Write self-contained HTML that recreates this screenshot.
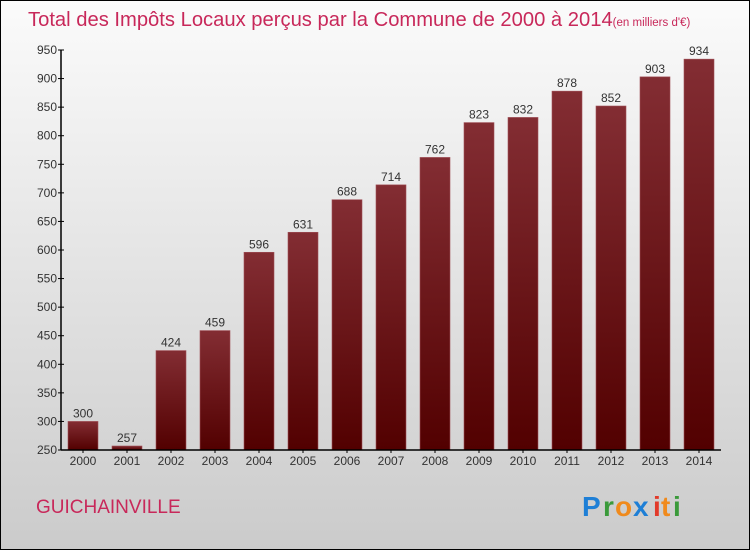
<!DOCTYPE html>
<html><head><meta charset="utf-8"><style>
body{margin:0;width:750px;height:550px;overflow:hidden;font-family:"Liberation Sans",sans-serif}
</style></head><body>
<svg width="750" height="550" xmlns="http://www.w3.org/2000/svg">
<defs>
<linearGradient id="bg" x1="0" y1="0" x2="0" y2="1"><stop offset="0" stop-color="#fbfbfb"/><stop offset="1" stop-color="#cbcbcb"/></linearGradient>
<linearGradient id="bar" x1="0" y1="0" x2="0" y2="1"><stop offset="0" stop-color="#832d33"/><stop offset="1" stop-color="#520000"/></linearGradient>
</defs>
<rect x="0.5" y="0.5" width="749" height="549" fill="url(#bg)" stroke="#000"/>
<text x="28" y="26" font-size="20.2" fill="#c8285a">Total des Impôts Locaux perçus par la Commune de 2000 à 2014<tspan font-size="11.5">(en milliers d'€)</tspan></text>
<g id="plot"></g>
<text x="36" y="513" font-size="19" fill="#c8285a">GUICHAINVILLE</text>
<g font-size="28" font-weight="bold">
<text x="582" y="516" fill="#1e7fd6">P</text><text x="603" y="516" fill="#3a9a3a">r</text><text x="615" y="516" fill="#f08a1c">o</text><text x="633" y="516" fill="#1e7fd6">x</text><text x="653" y="516" fill="#e23a2a">i</text><text x="661" y="516" fill="#f08a1c">t</text><text x="673" y="516" fill="#3a9a3a">i</text>
</g>
</svg>
<script>
const years=["2000","2001","2002","2003","2004","2005","2006","2007","2008","2009","2010","2011","2012","2013","2014"];
const values=[300,257,424,459,596,631,688,714,762,823,832,878,852,903,934];
const yTicks=[250,300,350,400,450,500,550,600,650,700,750,800,850,900,950];
const NS="http://www.w3.org/2000/svg";
const g=document.getElementById('plot');
const x0=61,x1=721,yTop=50,yBot=450,vMin=250,vMax=950;
const y=v=>yBot-(v-vMin)/(vMax-vMin)*(yBot-yTop);
const step=(x1-x0)/years.length;
const xc=i=>x0+step*(i+0.5);
function mk(t,a,txt){const e=document.createElementNS(NS,t);for(const k in a)e.setAttribute(k,a[k]);if(txt!=null)e.textContent=txt;g.appendChild(e);return e;}
values.forEach((v,i)=>{
 const r=mk('rect',{x:xc(i)-15,y:y(v),width:30,height:yBot-y(v),fill:'url(#bar)',stroke:'#a05058','stroke-width':0.6});
 
 
 const t=mk('text',{x:xc(i),y:y(v)-4,'font-size':12,fill:'#333','text-anchor':'middle'},String(v));
 
 
 const xl=mk('text',{x:xc(i),y:yBot+15,'font-size':12,fill:'#333','text-anchor':'middle'},years[i]);
 
 
 mk('line',{x1:xc(i),x2:xc(i),y1:yBot,y2:yBot+3,stroke:'#000'});
});
yTicks.forEach(v=>{
 mk('line',{x1:x0-3,x2:x0+3,y1:y(v),y2:y(v),stroke:'#000'});
 const t=mk('text',{x:x0-4,y:y(v)+4,'font-size':12,fill:'#333','text-anchor':'end'},String(v));
 
 
});
const ya=mk('line',{x1:x0,x2:x0,y1:yTop,y2:yBot,stroke:'#000','stroke-width':1.5});


const xa=mk('line',{x1:x0,x2:x1,y1:yBot,y2:yBot,stroke:'#000','stroke-width':1.5});


</script>
</body></html>
